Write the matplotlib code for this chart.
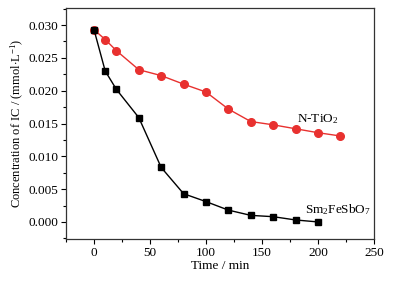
import matplotlib
matplotlib.use("Agg")
import matplotlib.pyplot as plt
from matplotlib.ticker import MultipleLocator

# ---------------------------------------------------------------------------
# Data
# ---------------------------------------------------------------------------
time_tio2 = [0, 10, 20, 40, 60, 80, 100, 120, 140, 160, 180, 200, 220]
conc_tio2 = [0.0293, 0.0278, 0.0261, 0.0232, 0.0223, 0.0210, 0.0198,
             0.0172, 0.0153, 0.0148, 0.0142, 0.0136, 0.0131]

time_sm = [0, 10, 20, 40, 60, 80, 100, 120, 140, 160, 180, 200]
conc_sm = [0.0293, 0.0230, 0.0202, 0.0159, 0.0083, 0.0043, 0.0031,
           0.0018, 0.0010, 0.0008, 0.0003, 0.0000]

x_ticks = [0, 50, 100, 150, 200, 250]
y_ticks = [0.000, 0.005, 0.010, 0.015, 0.020, 0.025, 0.030]

plt.rcParams["font.family"] = ["Liberation Serif", "DejaVu Serif"]
plt.rcParams["mathtext.fontset"] = "custom"
plt.rcParams["mathtext.rm"] = "Liberation Serif"
plt.rcParams["mathtext.it"] = "Liberation Serif:italic"

fig = plt.figure(figsize=(4.04, 2.82), dpi=100)
ax = fig.add_axes([0.1634, 0.1525, 0.7623, 0.819])

ax.plot(time_tio2, conc_tio2, color="#e8312f", marker="o", markersize=5.5,
        linewidth=1.0)
ax.plot(time_sm, conc_sm, color="black", marker="s", markersize=5,
        linewidth=1.0)

ax.text(181, 0.0157, r"N-TiO$_2$", fontsize=9.5, va="center")
ax.text(188, 0.0019, r"Sm$_2$FeSbO$_7$", fontsize=9.5, va="center")

ax.set_xlim(-25, 250)
ax.set_ylim(-0.0026, 0.0326)
ax.set_xticks(x_ticks)
ax.set_yticks(y_ticks)
ax.set_yticklabels([f"{v:.3f}" for v in y_ticks])
ax.xaxis.set_minor_locator(MultipleLocator(25))
ax.yaxis.set_minor_locator(MultipleLocator(0.0025))

ax.tick_params(which="both", direction="out", top=False, right=False,
               labelsize=9.5, width=0.8, pad=2)
ax.tick_params(which="major", length=3.5)
ax.tick_params(which="minor", length=2)

for s in ax.spines.values():
    s.set_linewidth(0.9)
    s.set_color("#333333")

ax.set_xlabel("Time / min", fontsize=9.5, labelpad=1)
ax.set_ylabel(r"Concentration of IC / (mmol$\cdot$L$^{-1}$)", fontsize=9,
              labelpad=2)

fig.savefig("out.png", dpi=100)
